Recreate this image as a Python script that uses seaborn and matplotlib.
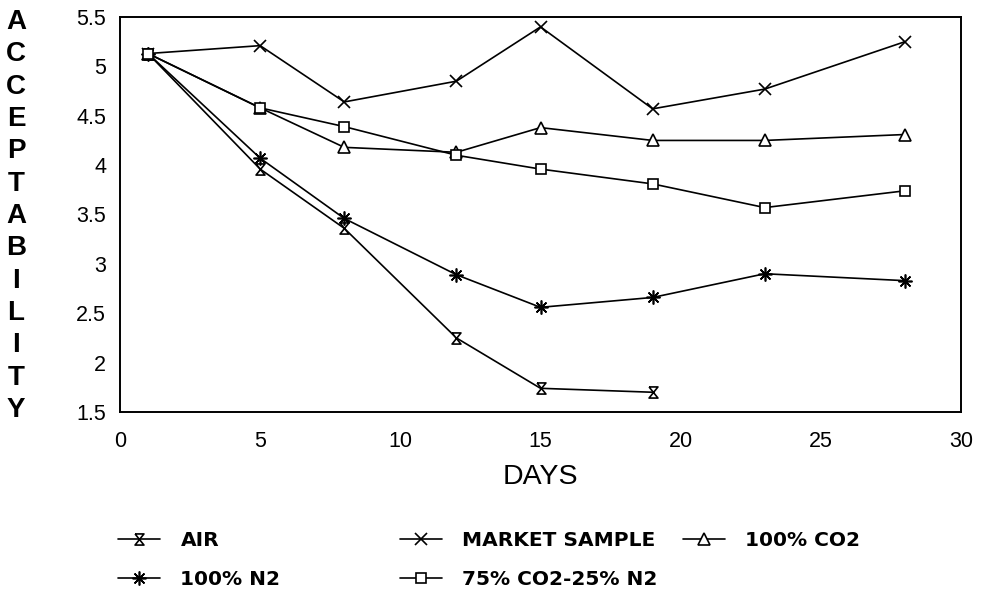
import matplotlib
matplotlib.use("Agg")
import matplotlib.pyplot as plt
import seaborn as sns
import pandas as pd

# ---- data ----
days_long = [1, 5, 8, 12, 15, 19, 23, 28]
days_air = [1, 5, 8, 12, 15, 19]
air = [5.13, 3.96, 3.36, 2.25, 1.74, 1.70]
market = [5.13, 5.21, 4.64, 4.85, 5.40, 4.57, 4.77, 5.25]
co2_100 = [5.13, 4.58, 4.18, 4.13, 4.38, 4.25, 4.25, 4.31]
n2_100 = [5.13, 4.07, 3.46, 2.89, 2.56, 2.66, 2.90, 2.83]
co2_75 = [5.13, 4.58, 4.39, 4.10, 3.96, 3.81, 3.57, 3.74]
labels = ["AIR", "MARKET SAMPLE", "100% CO2", "100% N2", "75% CO2-25% N2"]
x_ticks = [0, 5, 10, 15, 20, 25, 30]
y_ticks = [1.5, 2, 2.5, 3, 3.5, 4, 4.5, 5, 5.5]
y_ticklabels = ["1.5", "2", "2.5", "3", "3.5", "4", "4.5", "5", "5.5"]
x_title = "DAYS"
y_title = "ACCEPTABILITY"

sns.set_style("white")
plt.rcParams["font.family"] = ["Liberation Sans", "DejaVu Sans"]
plt.rcParams["text.color"] = "black"
plt.rcParams["xtick.color"] = "black"
plt.rcParams["ytick.color"] = "black"
plt.rcParams["axes.labelcolor"] = "black"

W, H = 984, 597
fig = plt.figure(figsize=(W / 100, H / 100), dpi=100)
ax = fig.add_axes([120 / W, 1 - 412 / H, (961 - 120) / W, (412 - 17) / H])

hourglass = [(-0.8, 1), (0.8, 1), (-0.8, -1), (0.8, -1), (-0.8, 1)]
series = [
    (labels[0], days_air, air, hourglass, 8),
    (labels[1], days_long, market, "x", 9),
    (labels[2], days_long, co2_100, "^", 9),
    (labels[3], days_long, n2_100, (8, 2, 0), 10),
    (labels[4], days_long, co2_75, "s", 7.5),
]
handles = {}
for name, xs, ys, mk, ms in series:
    df = pd.DataFrame({"day": xs, "val": ys})
    sns.lineplot(data=df, x="day", y="val", ax=ax, color="black", lw=1.2,
                 marker=mk, markersize=ms, markerfacecolor="white",
                 markeredgecolor="black", markeredgewidth=1.2, label=name,
                 legend=False)
    handles[name] = ax.lines[-1]

ax.set_xlim(0, 30)
ax.set_ylim(1.5, 5.5)
ax.set_xticks(x_ticks)
ax.set_yticks(y_ticks)
ax.set_yticklabels(y_ticklabels)
ax.set_xlabel("")
ax.set_ylabel("")
for s in ax.spines.values():
    s.set_visible(True)
    s.set_color("black")
    s.set_linewidth(1.4)
ax.tick_params(axis="x", direction="in", length=8, width=1, labelsize=15.5, pad=14, colors="black")
ax.tick_params(axis="y", direction="out", length=5, width=1, labelsize=15.5, pad=5, colors="black")
ax.tick_params(axis="x", which="both", top=False)
ax.tick_params(axis="y", which="both", right=False)

fig.text(540 / W, 1 - 477 / H, x_title, ha="center", va="center", fontsize=20.5,
         color="black")

n = len(y_title)
top_y, bot_y = 22, 410
for i, ch in enumerate(y_title):
    yy = top_y + (bot_y - top_y) * i / (n - 1)
    fig.text(16 / W, 1 - yy / H, ch, ha="center", va="center", fontsize=20,
             fontweight="bold", color="black")

legend_cols = [
    ([labels[0], labels[3]], 118),
    ([labels[1], labels[4]], 400),
    ([labels[2]], 683),
]
for names, xpx in legend_cols:
    leg = fig.legend([handles[nm] for nm in names], names, loc="upper left",
                     bbox_to_anchor=(xpx / W, 1 - 531 / H), frameon=False,
                     borderpad=0, borderaxespad=0, handlelength=2.1,
                     handletextpad=1.0, labelspacing=1.0,
                     prop={"family": "DejaVu Sans", "weight": "bold", "size": 14.5})
    for t in leg.get_texts():
        t.set_color("black")

fig.savefig("out.png", dpi=100, facecolor="white")
